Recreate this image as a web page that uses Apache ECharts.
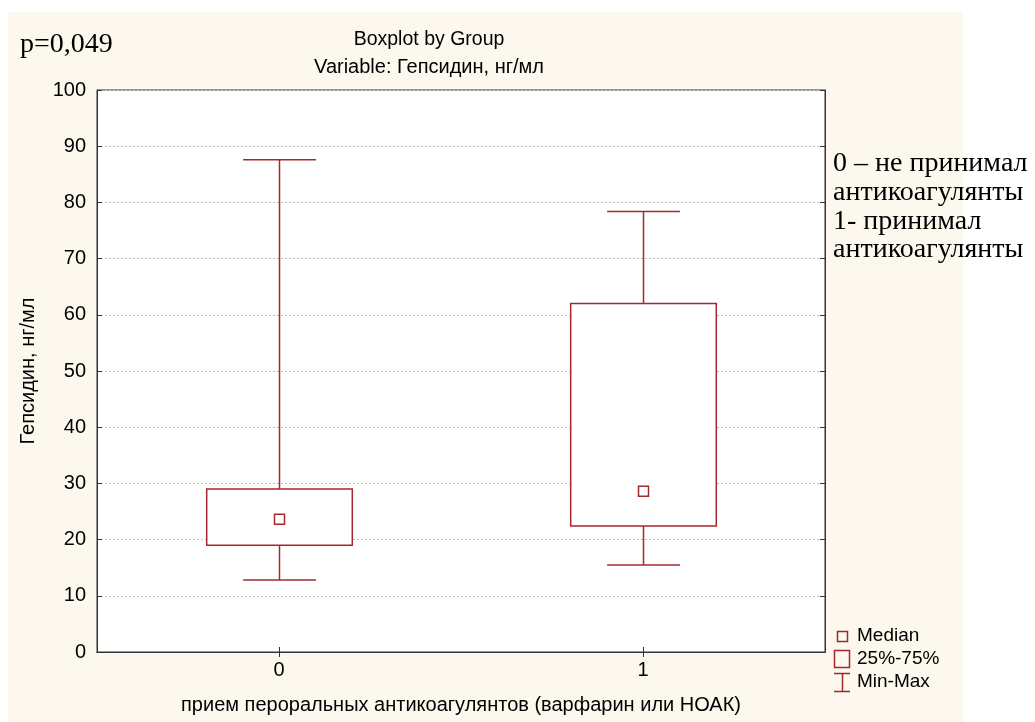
<!DOCTYPE html>
<html>
<head>
<meta charset="utf-8">
<script src="https://cdn.jsdelivr.net/npm/echarts@6/dist/echarts.min.js"></script>
<style>
  html, body { margin: 0; padding: 0; background: #ffffff; }
  #bg { position: absolute; left: 8px; top: 12px; width: 955px; height: 710px; background: #fdf8ee; }
  #chart { position: absolute; left: 0; top: 0; width: 1035px; height: 722px; }
</style>
</head>
<body>
<div id="bg"></div>
<div id="chart"></div>
<script>
// ---- data ----
const categories = ['0', '1'];
const minVals = [12.8, 15.5];
const q1Vals = [19.0, 22.4];
const medianVals = [23.6, 28.6];
const q3Vals = [29.0, 62.0];
const maxVals = [87.6, 78.4];
const yTicks = [0, 10, 20, 30, 40, 50, 60, 70, 80, 90, 100];

const titleText = 'Boxplot by Group';
const subtitleText = 'Variable: Гепсидин, нг/мл';
const xName = 'прием пероральных антикоагулянтов (варфарин или НОАК)';
const yName = 'Гепсидин, нг/мл';
const pText = 'p=0,049';
const noteLines = ['0 – не принимал', 'антикоагулянты', '1- принимал', 'антикоагулянты'];
const legendLabels = ['Median', '25%-75%', 'Min-Max'];

const RED = '#a3282e';
const sans = 'Arial, "Liberation Sans", sans-serif';
const serif = '"Times New Roman", "Liberation Serif", serif';

const boxData = categories.map((c, i) => [i, minVals[i], q1Vals[i], medianVals[i], q3Vals[i], maxVals[i]]);

const chart = echarts.init(document.getElementById('chart'), null, { renderer: 'canvas' });

function renderBox(params, api) {
  const x = api.value(0);
  const pMin = api.coord([x, api.value(1)]);
  const pQ1 = api.coord([x, api.value(2)]);
  const pMed = api.coord([x, api.value(3)]);
  const pQ3 = api.coord([x, api.value(4)]);
  const pMax = api.coord([x, api.value(5)]);
  const band = api.size([1, 0])[0];
  const bw = band * 0.40;
  const cw = band * 0.20;
  const cx = Math.round(pMin[0]) + 0.5;
  const st = { stroke: RED, lineWidth: 1.5, fill: null };
  return {
    type: 'group',
    children: [
      { type: 'line', shape: { x1: cx, y1: pMax[1], x2: cx, y2: pQ3[1] }, style: st },
      { type: 'line', shape: { x1: cx, y1: pQ1[1], x2: cx, y2: pMin[1] }, style: st },
      { type: 'line', shape: { x1: cx - cw / 2, y1: pMax[1], x2: cx + cw / 2, y2: pMax[1] }, style: st },
      { type: 'line', shape: { x1: cx - cw / 2, y1: pMin[1], x2: cx + cw / 2, y2: pMin[1] }, style: st },
      { type: 'rect', shape: { x: cx - bw / 2, y: pQ3[1], width: bw, height: pQ1[1] - pQ3[1] }, style: { stroke: RED, lineWidth: 1.5, fill: '#ffffff' } },
      { type: 'rect', shape: { x: cx - 5, y: pMed[1] - 5, width: 10, height: 10 }, style: { stroke: RED, lineWidth: 1.5, fill: '#ffffff' } }
    ]
  };
}

const option = {
  backgroundColor: 'transparent',
  animation: false,
  title: {
    text: titleText,
    subtext: subtitleText,
    left: 424,
    top: 25,
    textAlign: 'center',
    itemGap: 7,
    textStyle: { fontFamily: sans, fontSize: 19.5, fontWeight: 'normal', color: '#000' },
    subtextStyle: { fontFamily: sans, fontSize: 20, color: '#000' }
  },
  grid: { left: 97, right: 210, top: 90, bottom: 70, show: true, backgroundColor: '#ffffff', borderColor: '#333', borderWidth: 1 },
  xAxis: [{
    type: 'category',
    data: categories,
    boundaryGap: true,
    name: xName,
    nameLocation: 'middle',
    nameGap: 43,
    nameTextStyle: { fontFamily: sans, fontSize: 20, color: '#000' },
    axisLine: { lineStyle: { color: '#333', width: 1 } },
    axisTick: { show: true, inside: true, alignWithLabel: true, length: 5, lineStyle: { color: '#333' } },
    axisLabel: { fontFamily: sans, fontSize: 20, color: '#000', margin: 8 },
    splitLine: { show: false }
  }, {
    type: 'category',
    data: categories,
    position: 'top',
    boundaryGap: true,
    axisLine: { lineStyle: { color: '#333', width: 1 } },
    axisTick: { show: true, inside: true, alignWithLabel: true, length: 5, lineStyle: { color: '#333' } },
    axisLabel: { show: false }
  }],
  yAxis: [{
    type: 'value',
    min: 0,
    max: 100,
    interval: 10,
    name: yName,
    nameLocation: 'middle',
    nameGap: 59,
    nameTextStyle: { fontFamily: sans, fontSize: 20, color: '#000' },
    axisLine: { show: true, lineStyle: { color: '#333', width: 1 } },
    axisTick: { show: true, inside: true, length: 5, lineStyle: { color: '#333' } },
    axisLabel: { fontFamily: sans, fontSize: 20, color: '#000', margin: 11, formatter: v => (yTicks.includes(v) ? String(v) : '') },
    splitLine: { show: true, lineStyle: { color: '#bdbdbd', type: [2, 2], width: 1 } }
  }, {
    type: 'value',
    min: 0,
    max: 100,
    interval: 10,
    position: 'right',
    axisLine: { show: true, lineStyle: { color: '#333', width: 1 } },
    axisTick: { show: true, inside: true, length: 5, lineStyle: { color: '#333' } },
    axisLabel: { show: false },
    splitLine: { show: false }
  }],
  series: [{
    type: 'custom',
    renderItem: renderBox,
    xAxisIndex: 0,
    yAxisIndex: 0,
    data: boxData,
    encode: { x: 0, y: [1, 2, 3, 4, 5] },
    z: 5
  }],
  graphic: [
    { type: 'text', x: 20, y: 45, style: { text: pText, font: '28px ' + serif, fill: '#000', verticalAlign: 'middle' } },
    { type: 'group', children: noteLines.map((t, i) => ({
      type: 'text', x: 833, y: 164 + i * 28.7, style: { text: t, font: '28px ' + serif, fill: '#000', verticalAlign: 'middle' }
    })) },
    { type: 'rect', shape: { x: 837.5, y: 631.5, width: 10, height: 10 }, style: { stroke: RED, lineWidth: 1.5, fill: null } },
    { type: 'rect', shape: { x: 834.5, y: 650.5, width: 15, height: 17 }, style: { stroke: RED, lineWidth: 1.5, fill: null } },
    { type: 'line', shape: { x1: 834, y1: 673.5, x2: 850, y2: 673.5 }, style: { stroke: RED, lineWidth: 1.5 } },
    { type: 'line', shape: { x1: 834, y1: 691.5, x2: 850, y2: 691.5 }, style: { stroke: RED, lineWidth: 1.5 } },
    { type: 'line', shape: { x1: 842.5, y1: 673.5, x2: 842.5, y2: 691.5 }, style: { stroke: RED, lineWidth: 1.5 } },
    { type: 'text', x: 857, y: 636, style: { text: legendLabels[0], font: '19px ' + sans, fill: '#000', verticalAlign: 'middle' } },
    { type: 'text', x: 857, y: 659, style: { text: legendLabels[1], font: '19px ' + sans, fill: '#000', verticalAlign: 'middle' } },
    { type: 'text', x: 857, y: 682, style: { text: legendLabels[2], font: '19px ' + sans, fill: '#000', verticalAlign: 'middle' } }
  ]
};
chart.setOption(option);
</script>
</body>
</html>
